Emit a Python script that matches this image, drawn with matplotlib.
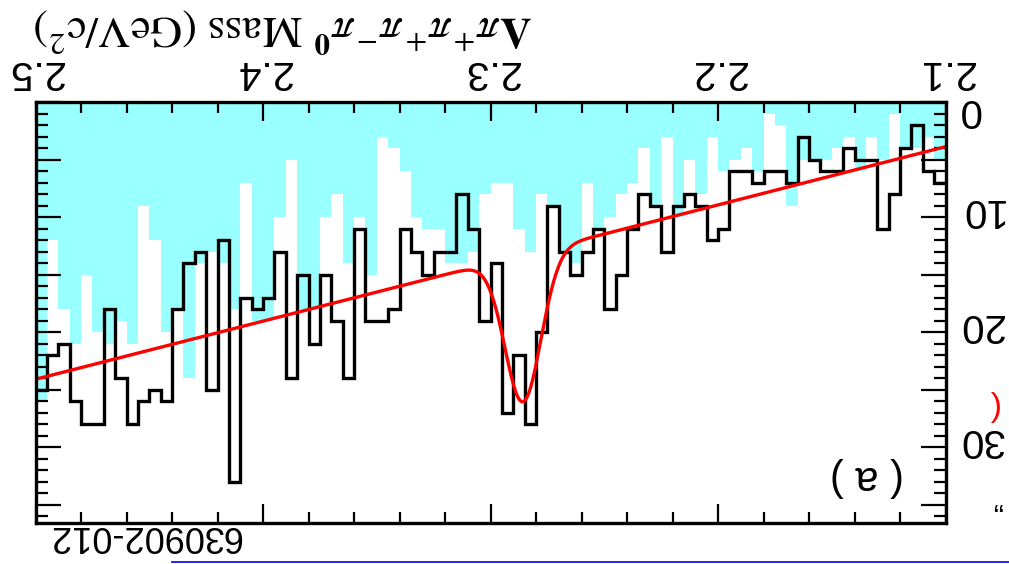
import numpy as np
import matplotlib
matplotlib.use('Agg')
import matplotlib.pyplot as plt
from matplotlib.ticker import MultipleLocator, FuncFormatter
from matplotlib.lines import Line2D
from matplotlib.transforms import ScaledTranslation

plt.rcParams['font.family'] = ['Liberation Sans', 'DejaVu Sans']
plt.rcParams['mathtext.fontset'] = 'stix'

# 5 MeV bins from 2.10 to 2.50 GeV (low to high mass)
mass_lo = 2.10
mass_hi = 2.50
bin_width = 0.005

# signal region candidates (black histogram)
counts = [7, 6, 2, 4, 8, 11, 5, 5, 4, 6,
          6, 5, 3, 7, 6, 6, 7, 6, 6, 11,
          12, 9, 8, 9, 13, 9, 8, 11, 15, 18,
          11, 13, 15, 13, 9, 20, 28, 22, 27, 14,
          19, 11, 8, 13, 13, 15, 13, 11, 18, 19,
          19, 11, 24, 19, 15, 21, 15, 24, 13, 17,
          18, 17, 33, 12, 25, 13, 14, 18, 26, 25,
          26, 28, 24, 18, 28, 28, 26, 21, 22, 25]

# sideband (cyan filled histogram)
sideband = [5, 3, 4, 4, 1, 5, 3, 6, 3, 4,
            5, 5, 5, 9, 2, 1, 6, 4, 5, 6,
            3, 8, 5, 10, 3, 9, 4, 7, 8, 10,
            11, 7, 14, 13, 9, 8, 13, 11, 7, 7,
            8, 13, 14, 14, 11, 11, 10, 6, 4, 3,
            15, 10, 14, 8, 10, 18, 18, 5, 10, 19,
            19, 7, 18, 14, 13, 14, 24, 18, 20, 12,
            9, 21, 19, 21, 20, 15, 21, 18, 12, 26]

# fit: linear background + gaussian
bkg_at_lo = 3.85
bkg_slope = 50.6
peak_amp = 12.8
peak_mean = 2.2857
peak_sigma = 0.0079

edges = np.round(np.arange(mass_lo, mass_hi + bin_width / 2, bin_width), 4)
m = np.linspace(mass_lo, mass_hi, 800)
fit = bkg_at_lo + bkg_slope * (m - mass_lo) + peak_amp * np.exp(-0.5 * ((m - peak_mean) / peak_sigma) ** 2)

fig = plt.figure(figsize=(10.09, 5.64), dpi=100)
ax = fig.add_axes([0.0352, 0.0727, 0.9019, 0.7456])

ax.stairs(sideband, edges, fill=True, color='#99ffff', linewidth=0)
ax.stairs(counts, edges, color='black', linewidth=2.4, baseline=None)
ax.plot(m, fit, color='#ff0000', linewidth=2.4)

# whole picture is shown upside down
ax.set_xlim(mass_hi, mass_lo)
ax.set_ylim(36.6, 0)

ax.xaxis.set_major_locator(MultipleLocator(0.1))
ax.xaxis.set_minor_locator(MultipleLocator(0.02))
ax.yaxis.set_major_locator(MultipleLocator(5))
ax.yaxis.set_minor_locator(MultipleLocator(1))
ax.xaxis.set_major_formatter(FuncFormatter(lambda v, p: '%.1f' % v))
ax.yaxis.set_major_formatter(FuncFormatter(lambda v, p: '%d' % round(v) if round(v) % 10 == 0 else ''))

ax.tick_params(which='both', direction='in', top=True, bottom=True, left=True, right=True,
               labeltop=True, labelbottom=False, labelright=True, labelleft=False,
               labelrotation=180, width=1.6, labelsize=29)
ax.tick_params(axis='x', which='major', length=14, pad=8)
ax.tick_params(axis='x', which='minor', length=8)
ax.tick_params(axis='y', which='major', length=18, pad=9)
ax.tick_params(axis='y', which='minor', length=8.5)
for s in ax.spines.values():
    s.set_linewidth(2.4)

ax.text(2.1345, 32.6, '( a )', fontsize=30, rotation=180, ha='center', va='center')

fig.text(283 / 1009, 1 - 30 / 564,
         r'$\mathbf{\Lambda}\pi^{+}\pi^{+}\pi^{-}\pi^{\mathbf{0}}\ \mathrm{Mass}\ (\mathrm{GeV}/\mathrm{c}^{2})$',
         fontsize=32, rotation=180, ha='center', va='center')
fig.text(145 / 1009, 1 - 535 / 564, '630902-012', fontsize=26, rotation=180,
         ha='center', va='center', family=['Liberation Sans Narrow', 'Liberation Sans'])
fig.text(992 / 1009, 1 - 406 / 564, '(', color='#ff0000', fontsize=24, rotation=180,
         ha='center', va='center')
fig.text(997 / 1009, 1 - 515 / 564, '\u201e', fontsize=22, rotation=180,
         ha='center', va='center')
fig.add_artist(Line2D([172 / 1009, 1.0], [1 - 561.5 / 564, 1 - 561.5 / 564],
                      transform=fig.transFigure, color='#0000ee', linewidth=1.2))

# rotated labels sit low: lift the y labels a little, pin "0" under the frame
fig.canvas.draw()
lift = ScaledTranslation(0, 11 / 100, fig.dpi_scale_trans)
for tick in ax.yaxis.get_major_ticks():
    lab = tick.label2
    lab.set_transform(lab.get_transform() + lift)
    if lab.get_text() == '0':
        lab.set_verticalalignment('top')

fig.savefig('out.png', dpi=100)
